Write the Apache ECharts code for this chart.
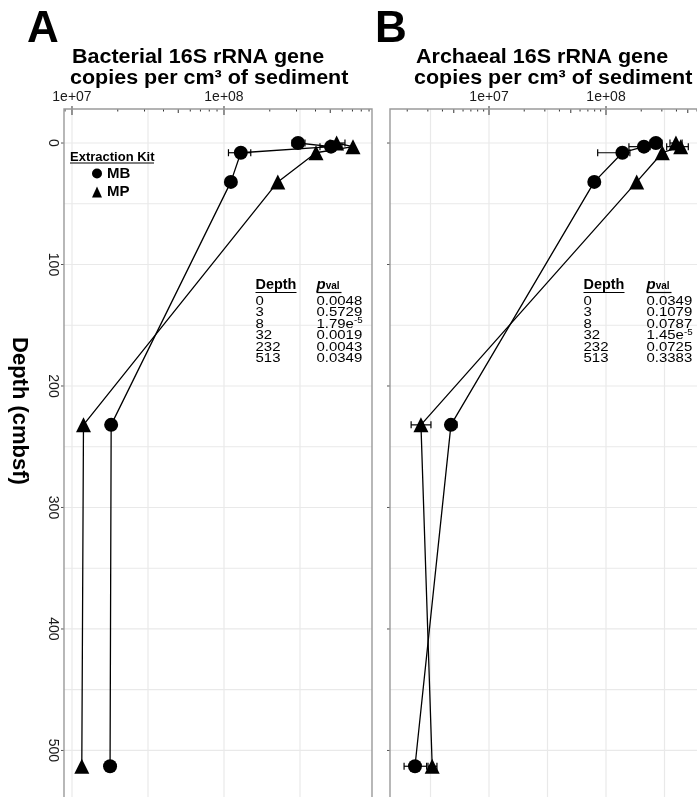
<!DOCTYPE html>
<html>
<head>
<meta charset="utf-8">
<script src="https://cdn.jsdelivr.net/npm/echarts@6/dist/echarts.min.js"></script>
<style>
html,body{margin:0;padding:0;background:#fff;}
#chart{width:697px;height:797px;}
</style>
</head>
<body>
<div id="chart"></div>
<script>
// ---- data ----
const depths = [0, 3, 8, 32, 232, 513];
const bacMB = [3.07e8, 5.06e8, 1.29e8, 1.11e8, 1.81e7, 1.78e7];
const bacMP = [5.51e8, 7.06e8, 4.03e8, 2.26e8, 1.19e7, 1.16e7];
const arcMB = [2.67e8, 2.11e8, 1.38e8, 7.94e7, 4.73e6, 2.33e6];
const arcMP = [3.96e8, 4.35e8, 3.03e8, 1.83e8, 2.62e6, 3.27e6];

// error bars: [depth, low, high]
const bacMBerr = [[0, 2.80e8, 3.41e8], [3, 4.28e8, 5.97e8], [8, 1.07e8, 1.50e8]];
const bacMPerr = [[0, 4.98e8, 6.25e8]];
const arcMBerr = [[0, 2.38e8, 3.01e8], [3, 1.57e8, 2.38e8], [8, 8.49e7, 1.60e8], [232, 4.29e6, 5.32e6], [513, 1.88e6, 2.93e6]];
const arcMPerr = [[0, 3.52e8, 4.47e8], [3, 3.30e8, 5.05e8], [232, 2.16e6, 3.19e6], [513, 3.01e6, 3.59e6]];

// p-value tables
const tableDepths = ['0', '3', '8', '32', '232', '513'];
const bacPvals = ['0.0048', '0.5729', '1.79e-5', '0.0019', '0.0043', '0.0349'];
const arcPvals = ['0.0349', '0.1079', '0.0787', '1.45e-5', '0.0725', '0.3383'];

// tick labels
const yTickLabels = [0, 100, 200, 300, 400, 500];
const yGridValues = [0, 50, 100, 150, 200, 250, 300, 350, 400, 450, 500];

const FONT = '"Liberation Sans", Arial, Helvetica, sans-serif';

function xFmt(v) {
  const l = Math.log10(v), r = Math.round(l);
  if (Math.abs(l - r) < 1e-3) return '1e+' + (r < 10 ? '0' : '') + r;
  return '';
}

// decoration items: [x, y, kind, len]
function decorData(logMin, logMax) {
  const d = [];
  for (let e = 6; e <= 9; e += 0.5) {
    if (e > logMin && e < logMax) d.push([Math.pow(10, e), 0, 0, 0]);
  }
  yGridValues.forEach(v => d.push([Math.pow(10, 7), v, 1, 0]));
  for (let n = 6; n <= 8; n++) {
    for (let k = 1; k <= 9; k++) {
      const lv = n + Math.log10(k);
      if (lv > logMin && lv < logMax) d.push([k * Math.pow(10, n), 0, 2, k === 1 ? 6 : (k === 5 ? 4 : 2.5)]);
    }
  }
  yTickLabels.forEach(v => d.push([Math.pow(10, 7), v, 3, 0]));
  return d;
}

function renderDecor(params, api) {
  const cs = params.coordSys;
  const kind = api.value(2);
  if (kind === 0) {
    const px = api.coord([api.value(0), 0])[0];
    return {type: 'line', shape: {x1: px, y1: cs.y, x2: px, y2: cs.y + cs.height}, style: {stroke: '#e9e9e9', lineWidth: 1.2}, z2: 0};
  }
  if (kind === 1) {
    const py = api.coord([api.value(0), api.value(1)])[1];
    return {type: 'line', shape: {x1: cs.x, y1: py, x2: cs.x + cs.width, y2: py}, style: {stroke: '#e9e9e9', lineWidth: 1.2}, z2: 0};
  }
  if (kind === 2) {
    const px = api.coord([api.value(0), 0])[0];
    const len = api.value(3);
    const top = len >= 6 ? cs.y - 3 : cs.y;
    return {type: 'line', shape: {x1: px, y1: top, x2: px, y2: cs.y + len}, style: {stroke: '#333', lineWidth: 1}, z2: 5};
  }
  const py = api.coord([api.value(0), api.value(1)])[1];
  return {type: 'line', shape: {x1: cs.x - 3, y1: py, x2: cs.x, y2: py}, style: {stroke: '#555', lineWidth: 1}, z2: 5};
}

function renderErr(params, api) {
  const d = api.value(0);
  const p1 = api.coord([api.value(1), d]);
  const p2 = api.coord([api.value(2), d]);
  const h = 3.5;
  const st = {stroke: '#000', lineWidth: 1.2};
  return {type: 'group', children: [
    {type: 'line', shape: {x1: p1[0], y1: p1[1], x2: p2[0], y2: p2[1]}, style: st},
    {type: 'line', shape: {x1: p1[0], y1: p1[1] - h, x2: p1[0], y2: p1[1] + h}, style: st},
    {type: 'line', shape: {x1: p2[0], y1: p2[1] - h, x2: p2[0], y2: p2[1] + h}, style: st}
  ]};
}

function pairs(vals) { return vals.map((v, i) => [v, depths[i]]); }

function lineSeries(name, vals, gi, symbol, size) {
  return {
    type: 'line', name: name, xAxisIndex: gi, yAxisIndex: gi,
    data: pairs(vals), symbol: symbol, symbolSize: size, showSymbol: true,
    lineStyle: {color: '#000', width: 1.3}, itemStyle: {color: '#000'},
    color: '#000', silent: true, z: 4
  };
}

function errSeries(data, gi) {
  return {type: 'custom', xAxisIndex: gi, yAxisIndex: gi, data: data,
    encode: {x: [1, 2], y: 0}, renderItem: renderErr, silent: true, z: 3, clip: false};
}

const panels = [
  {logMin: 6.9474, logMax: 8.9737, left: 64, width: 308},
  {logMin: 6.1538, logMax: 8.829, left: 390, width: 313}
];

const grids = panels.map(p => ({
  left: p.left, top: 109, width: p.width, height: 692, show: true,
  outerBoundsMode: 'none', containLabel: false,
  borderColor: '#9a9a9a', borderWidth: 1.4, backgroundColor: 'transparent', z: 6
}));

const xAxes = panels.map((p, i) => ({
  type: 'log', logBase: 10, gridIndex: i, position: 'top',
  min: Math.pow(10, p.logMin), max: Math.pow(10, p.logMax),
  axisLine: {show: false}, axisTick: {show: false}, splitLine: {show: false},
  axisLabel: {formatter: xFmt, fontSize: 14, color: '#1a1a1a', margin: 5, fontFamily: FONT,
    showMinLabel: false, showMaxLabel: false}
}));

const yAxes = panels.map((p, i) => ({
  type: 'value', gridIndex: i, inverse: true, min: -28, max: 541.6, splitNumber: 11,
  axisLine: {show: false}, axisTick: {show: false}, splitLine: {show: false},
  axisLabel: {show: i === 0, rotate: -90, fontSize: 14, color: '#1a1a1a', margin: 4, fontFamily: FONT,
    formatter: v => (yTickLabels.indexOf(v) >= 0 ? String(v) : '')}
}));

const series = [];
panels.forEach((p, i) => {
  series.push({type: 'custom', xAxisIndex: i, yAxisIndex: i, data: decorData(p.logMin, p.logMax),
    encode: {x: 0, y: 1}, renderItem: renderDecor, silent: true, z: 1, clip: false});
});
series.push(errSeries(bacMBerr, 0), errSeries(bacMPerr, 0), errSeries(arcMBerr, 1), errSeries(arcMPerr, 1));
series.push(lineSeries('MB', bacMB, 0, 'circle', 14));
series.push(lineSeries('MP', bacMP, 0, 'triangle', 15));
series.push(lineSeries('MB', arcMB, 1, 'circle', 14));
series.push(lineSeries('MP', arcMP, 1, 'triangle', 15));

// ---- graphic texts ----
const graphics = [];
function txt(x, y, text, font, extra) {
  const g = {type: 'text', x: x, y: y, z: 100,
    style: Object.assign({text: text, font: font, fill: '#000', align: 'left', verticalAlign: 'middle'}, (extra && extra.style) || {})};
  if (extra && extra.scaleX) g.scaleX = extra.scaleX;
  if (extra && extra.rotation) g.rotation = extra.rotation;
  graphics.push(g);
}
function uline(x1, x2, y) {
  graphics.push({type: 'line', z: 100, shape: {x1: x1, y1: y, x2: x2, y2: y}, style: {stroke: '#000', lineWidth: 1.2}});
}

txt(27, 30, 'A', 'bold 44px ' + FONT);
txt(375, 30, 'B', 'bold 44px ' + FONT);
txt(72, 57.5, 'Bacterial 16S rRNA gene', 'bold 20px ' + FONT, {scaleX: 1.075});
txt(70, 78.5, 'copies per cm³ of sediment', 'bold 20px ' + FONT, {scaleX: 1.075});
txt(416, 57.5, 'Archaeal 16S rRNA gene', 'bold 20px ' + FONT, {scaleX: 1.075});
txt(414, 78.5, 'copies per cm³ of sediment', 'bold 20px ' + FONT, {scaleX: 1.075});
txt(19, 411, 'Depth (cmbsf)', 'bold 22px ' + FONT, {rotation: -Math.PI / 2, style: {align: 'center'}});

// legend title
txt(70, 157, 'Extraction Kit', 'bold 13px ' + FONT);
uline(70, 154, 163);

function table(x0, x1, pvals) {
  txt(x0, 285, 'Depth', 'bold 14px ' + FONT, {scaleX: 1.03});
  uline(x0, x0 + 41, 292.5);
  txt(x1, 285, '{p|p}{v|val}', 'bold 14px ' + FONT, {style: {rich: {
    p: {font: 'italic bold 15px ' + FONT, fill: '#000'},
    v: {font: 'bold 10px ' + FONT, fill: '#000', verticalAlign: 'bottom', padding: [0, 0, 1, 0]}
  }}});
  uline(x1, x1 + 25, 292.5);
  pvals.forEach((pv, i) => {
    const y = 301 + i * 11.55;
    txt(x0, y, tableDepths[i], '13px ' + FONT, {scaleX: 1.15});
    const m = pv.match(/^(.*e)(-\d+)$/);
    if (m) {
      txt(x1, y, '{b|' + m[1] + '}{s|' + m[2] + '}', '13px ' + FONT, {scaleX: 1.15, style: {rich: {
        b: {font: '13px ' + FONT, fill: '#000', lineHeight: 15},
        s: {font: '8.5px ' + FONT, fill: '#000', verticalAlign: 'top', lineHeight: 15}
      }}});
    } else {
      txt(x1, y, pv, '13px ' + FONT, {scaleX: 1.15});
    }
  });
}
table(255.5, 316.5, bacPvals);
table(583.5, 646.5, arcPvals);

const option = {
  animation: false,
  backgroundColor: '#fff',
  grid: grids,
  xAxis: xAxes,
  yAxis: yAxes,
  legend: {
    data: [{name: 'MB', icon: 'circle'}, {name: 'MP', icon: 'triangle'}],
    orient: 'vertical', left: 92, top: 166, padding: 0, itemWidth: 10, itemHeight: 11, itemGap: 3.5,
    textStyle: {fontSize: 15, fontWeight: 'bold', color: '#000', fontFamily: FONT},
    itemStyle: {color: '#000'}, selectedMode: false, z: 50
  },
  series: series,
  graphic: graphics
};

const chart = echarts.init(document.getElementById('chart'), null, {renderer: 'canvas'});
chart.setOption(option);
</script>
</body>
</html>
